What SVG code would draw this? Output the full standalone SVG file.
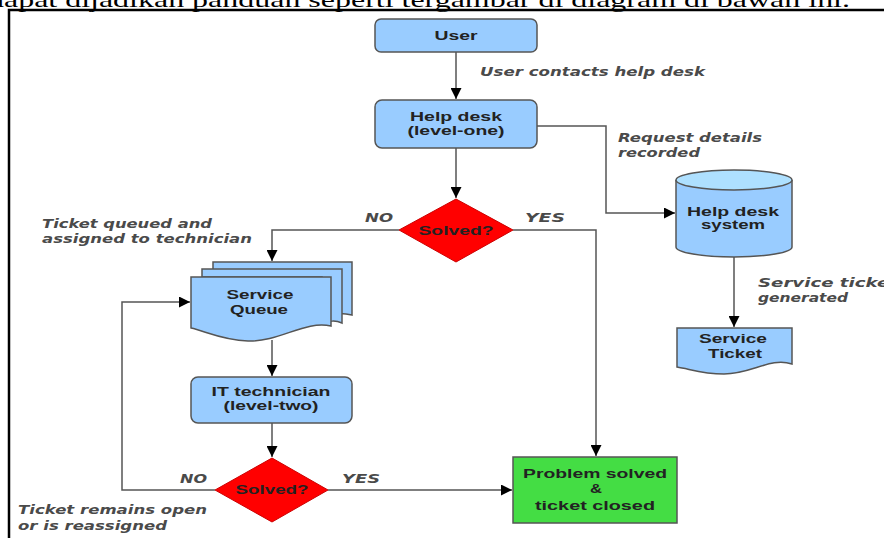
<svg xmlns="http://www.w3.org/2000/svg" width="884" height="538" viewBox="0 0 884 538">
<style>
.box{fill:#99ccff;stroke:#555;stroke-width:1.5}
.doc{fill:#99ccff;stroke:#555;stroke-width:1.5}
.dia{fill:#ff0000;stroke:#cc0000;stroke-width:1}
.ok{fill:#44dd44;stroke:#555;stroke-width:1.5}
.n{font-family:"Liberation Sans",Arial,sans-serif;font-weight:bold;font-size:12.5px;fill:#222;text-anchor:middle}
.l{font-family:"DejaVu Sans",Verdana,sans-serif;font-style:italic;font-weight:bold;font-size:12.5px;fill:#4a4a4a}
.c{fill:none;stroke:#555;stroke-width:1.5}
</style>
<defs>
<marker id="ah" markerUnits="userSpaceOnUse" viewBox="0 0 10 10" refX="10" refY="5" markerWidth="11" markerHeight="11" orient="auto">
<path d="M0,0 L10,5 L0,10 z" fill="#000"/>
</marker>
</defs>
<rect width="884" height="538" fill="#fff"/>
<text x="-12" y="7" font-family="'Liberation Serif','Times New Roman',serif" font-size="22" textLength="862" lengthAdjust="spacingAndGlyphs" fill="#000">dapat dijadikan panduan seperti tergambar di diagram di bawah ini.</text>
<g id="frame" fill="none" stroke="#000" stroke-width="2.5">
<path d="M9,538 V10 H884"/>
</g>
<g id="connectors">
<path class="c" d="M456,52 V99" marker-end="url(#ah)"/>
<path class="c" d="M537,126 H606 V213 H675" marker-end="url(#ah)"/>
<path class="c" d="M734,257 V327" marker-end="url(#ah)"/>
<path class="c" d="M456,148 V198" marker-end="url(#ah)"/>
<path class="c" d="M399,230 H272 V261" marker-end="url(#ah)"/>
<path class="c" d="M513,230 H596 V456" marker-end="url(#ah)"/>
<path class="c" d="M272,340 V376" marker-end="url(#ah)"/>
<path class="c" d="M272,423 V457" marker-end="url(#ah)"/>
<path class="c" d="M215,490 H122 V302 H190" marker-end="url(#ah)"/>
<path class="c" d="M328,490 H512" marker-end="url(#ah)"/>
</g>
<g id="labels">
<text class="l" x="480" y="76" textLength="225" lengthAdjust="spacingAndGlyphs">User contacts help desk</text>
<text class="l" x="618" y="142" textLength="144" lengthAdjust="spacingAndGlyphs">Request details</text>
<text class="l" x="618" y="157" textLength="82" lengthAdjust="spacingAndGlyphs">recorded</text>
<text class="l" x="758" y="287" textLength="140" lengthAdjust="spacingAndGlyphs">Service ticket</text>
<text class="l" x="758" y="302" textLength="90" lengthAdjust="spacingAndGlyphs">generated</text>
<text class="l" x="365" y="222" textLength="28" lengthAdjust="spacingAndGlyphs">NO</text>
<text class="l" x="525" y="222" textLength="40" lengthAdjust="spacingAndGlyphs">YES</text>
<text class="l" x="42" y="228" textLength="170" lengthAdjust="spacingAndGlyphs">Ticket queued and</text>
<text class="l" x="42" y="243" textLength="210" lengthAdjust="spacingAndGlyphs">assigned to technician</text>
<text class="l" x="180" y="483" textLength="27" lengthAdjust="spacingAndGlyphs">NO</text>
<text class="l" x="342" y="483" textLength="38" lengthAdjust="spacingAndGlyphs">YES</text>
<text class="l" x="18" y="514" textLength="189" lengthAdjust="spacingAndGlyphs">Ticket remains open</text>
<text class="l" x="18" y="530" textLength="149" lengthAdjust="spacingAndGlyphs">or is reassigned</text>
</g>
<g id="user">
<rect class="box" x="375" y="19" width="162" height="33" rx="6"/>
<text class="n" x="456" y="40" textLength="43" lengthAdjust="spacingAndGlyphs">User</text>
</g>
<g id="helpdesk">
<rect class="box" x="375" y="100" width="162" height="48" rx="7"/>
<text class="n" x="456" y="121" textLength="92" lengthAdjust="spacingAndGlyphs">Help desk</text>
<text class="n" x="456" y="135" textLength="97" lengthAdjust="spacingAndGlyphs">(level-one)</text>
</g>
<g id="system">
<path class="box" d="M676,180 V247 A58,10 0 0 0 792,247 V180"/>
<ellipse cx="734" cy="180" rx="58" ry="10" fill="#aee0ff" stroke="#555" stroke-width="1.5"/>
<text class="n" x="733" y="216" textLength="92" lengthAdjust="spacingAndGlyphs">Help desk</text>
<text class="n" x="733" y="229" textLength="64" lengthAdjust="spacingAndGlyphs">system</text>
</g>
<g id="ticket">
<path class="doc" d="M677,328 H792 V364 C770,357 752,374 724,374 C702,374 690,369 677,367 Z"/>
<text class="n" x="733" y="343" textLength="68" lengthAdjust="spacingAndGlyphs">Service</text>
<text class="n" x="735" y="358" textLength="54" lengthAdjust="spacingAndGlyphs">Ticket</text>
</g>
<g id="solved1">
<polygon class="dia" points="456,199 513,230 456,262 399,230"/>
<text class="n" x="456" y="235" textLength="75" lengthAdjust="spacingAndGlyphs">Solved?</text>
</g>
<g id="queue">
<path class="doc" d="M213,262 H352 V315 C340,312 332,314 322,316 V280 H213 Z"/>
<path class="doc" d="M202,269 H342 V323 C335,320 330,321 322,323 V277 H202 Z"/>
<path class="doc" d="M191,277 H331 V326 C305,320 280,342 248,341 C222,340 205,331 191,328 Z"/>
<text class="n" x="260" y="299" textLength="67" lengthAdjust="spacingAndGlyphs">Service</text>
<text class="n" x="259" y="314" textLength="58" lengthAdjust="spacingAndGlyphs">Queue</text>
</g>
<g id="ittech">
<rect class="box" x="191" y="377" width="161" height="46" rx="7"/>
<text class="n" x="271" y="396" textLength="119" lengthAdjust="spacingAndGlyphs">IT technician</text>
<text class="n" x="271" y="410" textLength="95" lengthAdjust="spacingAndGlyphs">(level-two)</text>
</g>
<g id="solved2">
<polygon class="dia" points="272,458 328,490 272,522 215,490"/>
<text class="n" x="272" y="494" textLength="73" lengthAdjust="spacingAndGlyphs">Solved?</text>
</g>
<g id="closed">
<rect class="ok" x="513" y="457" width="164" height="66"/>
<text class="n" x="595" y="478" textLength="144" lengthAdjust="spacingAndGlyphs">Problem solved</text>
<text class="n" x="596" y="493" textLength="12" lengthAdjust="spacingAndGlyphs">&amp;</text>
<text class="n" x="595" y="510" textLength="120" lengthAdjust="spacingAndGlyphs">ticket closed</text>
</g>
</svg>
